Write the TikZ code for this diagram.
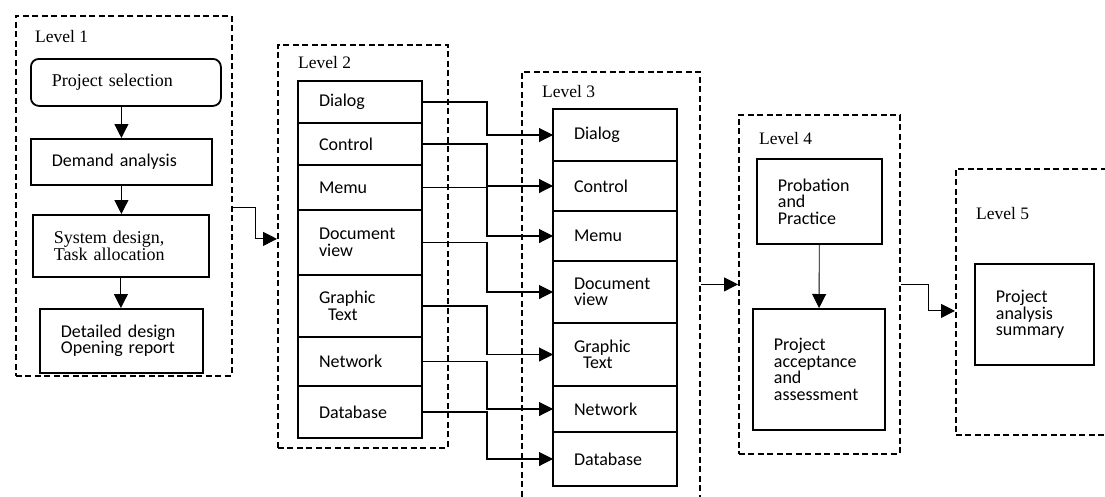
\documentclass[tikz,border=0pt]{standalone}
\usepackage{fontspec}
\setmainfont{Liberation Serif}
\newfontfamily\calibri{Carlito}
\usetikzlibrary{positioning,arrows.meta}
\tikzset{
  group/.style={draw, dash pattern=on 6pt off 3.5pt, line width=1.8pt, anchor=north west, inner sep=0pt},
  box/.style={draw, line width=1.8pt, anchor=north west, inner xsep=21pt, inner ysep=0pt, align=left,
    font=\calibri\fontsize{18}{16.5}\selectfont},
  serifbox/.style={box, font=\fontsize{18}{14.5}\selectfont},
  row/.style={box, outer sep=0pt, text width=82pt},
  level/.style={anchor=base west, inner sep=0pt, font=\fontsize{17.5}{20}\selectfont},
  link/.style={line width=1.1pt, -{Triangle[length=14pt,width=14pt]}},
}

\begin{document}
\begin{tikzpicture}[x=1pt,y=-1pt]
    \useasboundingbox (0,0) rectangle (1105,496);
    \clip (0,0) rectangle (1105,496);
    \node[group, minimum width=216pt, minimum height=360pt] (groupone) at (15,15) {};
    \node[group, minimum width=170pt, minimum height=403pt] (grouptwo) at (277,44) {};
    \node[group, minimum width=178pt, minimum height=460pt] (groupthree) at (521,71) {};
    \node[group, minimum width=161pt, minimum height=339pt] (groupfour) at (738,114) {};
    \node[group, minimum width=180pt, minimum height=266pt] (groupfive) at (955,168) {};
    \node[level] (levelone) at (35,42) {Level 1};
    \node[level] (leveltwo) at (298,68) {Level 2};
    \node[level] (levelthree) at (542,97) {Level 3};
    \node[level] (levelfour) at (759,144) {Level 4};
    \node[level] (levelfive) at (976,219) {Level 5};

    \node[serifbox, text width=148pt, minimum height=47pt, rounded corners=8pt] (select) at (30,58) {Project selection};
    \node[box, text width=139pt, minimum height=46pt] (demand) at (30,138) {Demand analysis};
    \node[serifbox, text width=134pt, minimum height=62pt] (design) at (32,214) {System design,\\Task allocation};
    \node[box, text width=121pt, minimum height=64pt] (detail) at (39,308) {Detailed design\\Opening report};
    \draw[link] (demand.north |- select.south) -- (demand.north);
    \draw[link] (demand.south) -- (demand.south |- design.north);
    \draw[link] (design.south) -- (design.south |- detail.north);

    \node[row, minimum height=42pt] (dialogtwo) at (298,81) {Dialog};
    \node[row, minimum height=42pt, below=0pt of dialogtwo] (controltwo) {Control};
    \node[row, minimum height=45pt, below=0pt of controltwo] (memutwo) {Memu};
    \node[row, minimum height=65pt, below=0pt of memutwo] (doctwo) {Document\\view};
    \node[row, minimum height=62pt, below=0pt of doctwo] (graphtwo) {Graphic\\\hspace*{0.5em}Text};
    \node[row, minimum height=49pt, below=0pt of graphtwo] (nettwo) {Network};
    \node[row, minimum height=52pt, below=0pt of nettwo] (basetwo) {Database};

    \node[row, minimum height=52pt] (dialogthree) at (553,109) {Dialog};
    \node[row, minimum height=50pt, below=0pt of dialogthree] (controlthree) {Control};
    \node[row, minimum height=50pt, below=0pt of controlthree] (memuthree) {Memu};
    \node[row, minimum height=62pt, below=0pt of memuthree] (docthree) {Document\\view};
    \node[row, minimum height=63pt, below=0pt of docthree] (graphthree) {Graphic\\\hspace*{0.5em}Text};
    \node[row, minimum height=46pt, below=0pt of graphthree] (netthree) {Network};
    \node[row, minimum height=54pt, below=0pt of netthree] (basethree) {Database};

    \draw[link] (dialogtwo.east) -- ++(65,0) |- (dialogthree.west);
    \draw[link] (controltwo.east) -- ++(65,0) |- (controlthree.west);
    \draw[link] (memutwo.east) -- ++(65,0) |- (memuthree.west);
    \draw[link] (doctwo.east) -- ++(65,0) |- (docthree.west);
    \draw[link] (graphtwo.east) -- ++(65,0) |- (graphthree.west);
    \draw[link] (nettwo.east) -- ++(65,0) |- (netthree.west);
    \draw[link] (basetwo.east) -- ++(65,0) |- (basethree.west);

    \node[box, text width=83pt, minimum height=85pt] (probation) at (756,158) {Probation\\and\\Practice};
    \node[box, text width=90pt, minimum height=121pt] (acceptance) at (752,308) {Project\\acceptance\\and\\assessment};
    \draw[link, line width=0.9pt] (probation) -- (acceptance);
    \node[box, text width=77pt, minimum height=101pt] (summary) at (974,263) {Project\\analysis\\summary};

    \draw[link] ([yshift=-12pt]groupone.east) -- ++(23,0) |- ([yshift=7.5pt]grouptwo.west);
    \draw[link] (groupthree.east |- groupfour.west) -- (groupfour.west);
    \draw[link] (groupfour.east) -- ++(28,0) |- ([yshift=-9pt]groupfive.west);
\end{tikzpicture}
\end{document}
